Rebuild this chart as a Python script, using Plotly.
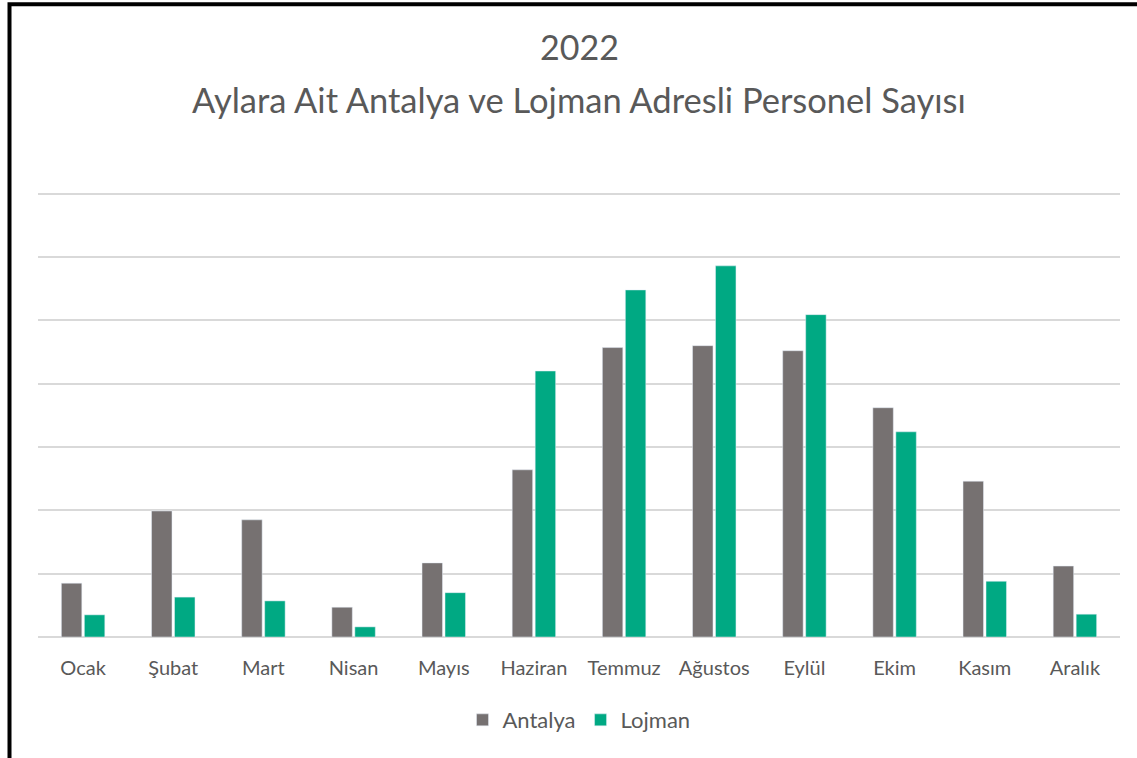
'''Grouped bar chart: monthly Antalya / Lojman staff counts, 2022'''
import plotly.graph_objects as go

months = ['Ocak', 'Şubat', 'Mart', 'Nisan', 'Mayıs', 'Haziran',
          'Temmuz', 'Ağustos', 'Eylül', 'Ekim', 'Kasım', 'Aralık']
antalya = [85, 199, 185, 47, 117, 264, 457, 460, 452, 362, 246, 112]
lojman = [35, 63, 57, 16, 70, 420, 548, 586, 509, 324, 88, 36]

title_year = '2022'
title_main = 'Aylara Ait Antalya ve Lojman Adresli Personel Sayısı'

FONT = 'Lato'
TEXT_COLOR = '#595959'

W, H = 1137, 758
LEFT, RIGHT, BOTTOM = 38, 1120, 637
Y_MAX = 720                       # a bit of headroom so the 700 gridline shows
PX_PER_UNIT = (637 - 194) / 700
TOP = BOTTOM - Y_MAX * PX_PER_UNIT
PLOT_H = BOTTOM - TOP
PLOT_W = RIGHT - LEFT


def py(y):
    '''page pixel row -> paper y'''
    return (BOTTOM - y) / PLOT_H


def px_(x):
    '''page pixel column -> paper x'''
    return (x - LEFT) / PLOT_W


fig = go.Figure()
fig.add_trace(go.Bar(x=months, y=antalya, name='Antalya', marker_color='#767171'))
fig.add_trace(go.Bar(x=months, y=lojman, name='Lojman', marker_color='#00A983'))

fig.update_layout(
    width=W, height=H,
    margin={'l': LEFT, 'r': W - RIGHT, 't': TOP, 'b': H - BOTTOM},
    plot_bgcolor='white', paper_bgcolor='white',
    barmode='group', bargap=0.49, bargroupgap=0.11,
    font={'family': FONT, 'size': 20, 'color': TEXT_COLOR},
    legend={'orientation': 'h', 'x': 0.5, 'xanchor': 'center',
            'y': py(720), 'yanchor': 'middle', 'font': {'size': 22},
            'itemwidth': 30},
    showlegend=True,
)
fig.update_xaxes(showgrid=False, showline=False, ticks='', ticklabelstandoff=17)
fig.update_yaxes(range=[0, Y_MAX], tickvals=[100, 200, 300, 400, 500, 600, 700],
                 showticklabels=False,
                 gridcolor='#d9d9d9', gridwidth=1.5, zeroline=True,
                 zerolinecolor='#d9d9d9', zerolinewidth=1.5)

fig.add_annotation(text=title_year, xref='paper', yref='paper', x=0.5,
                   y=py(47), showarrow=False, yanchor='middle',
                   font={'size': 34, 'color': TEXT_COLOR})
fig.add_annotation(text=title_main, xref='paper', yref='paper', x=0.5,
                   y=py(100), showarrow=False, yanchor='middle',
                   font={'size': 34.5, 'color': TEXT_COLOR})

# black frame around the chart (only left and top edges visible in the crop)
fig.add_shape(type='rect', xref='paper', yref='paper',
              x0=px_(9.5), x1=1.2, y0=-0.5, y1=py(4.7),
              line={'color': 'black', 'width': 4})

fig.write_html('out.html', config={'displayModeBar': False},
               post_script="document.body.style.margin='0px';")
